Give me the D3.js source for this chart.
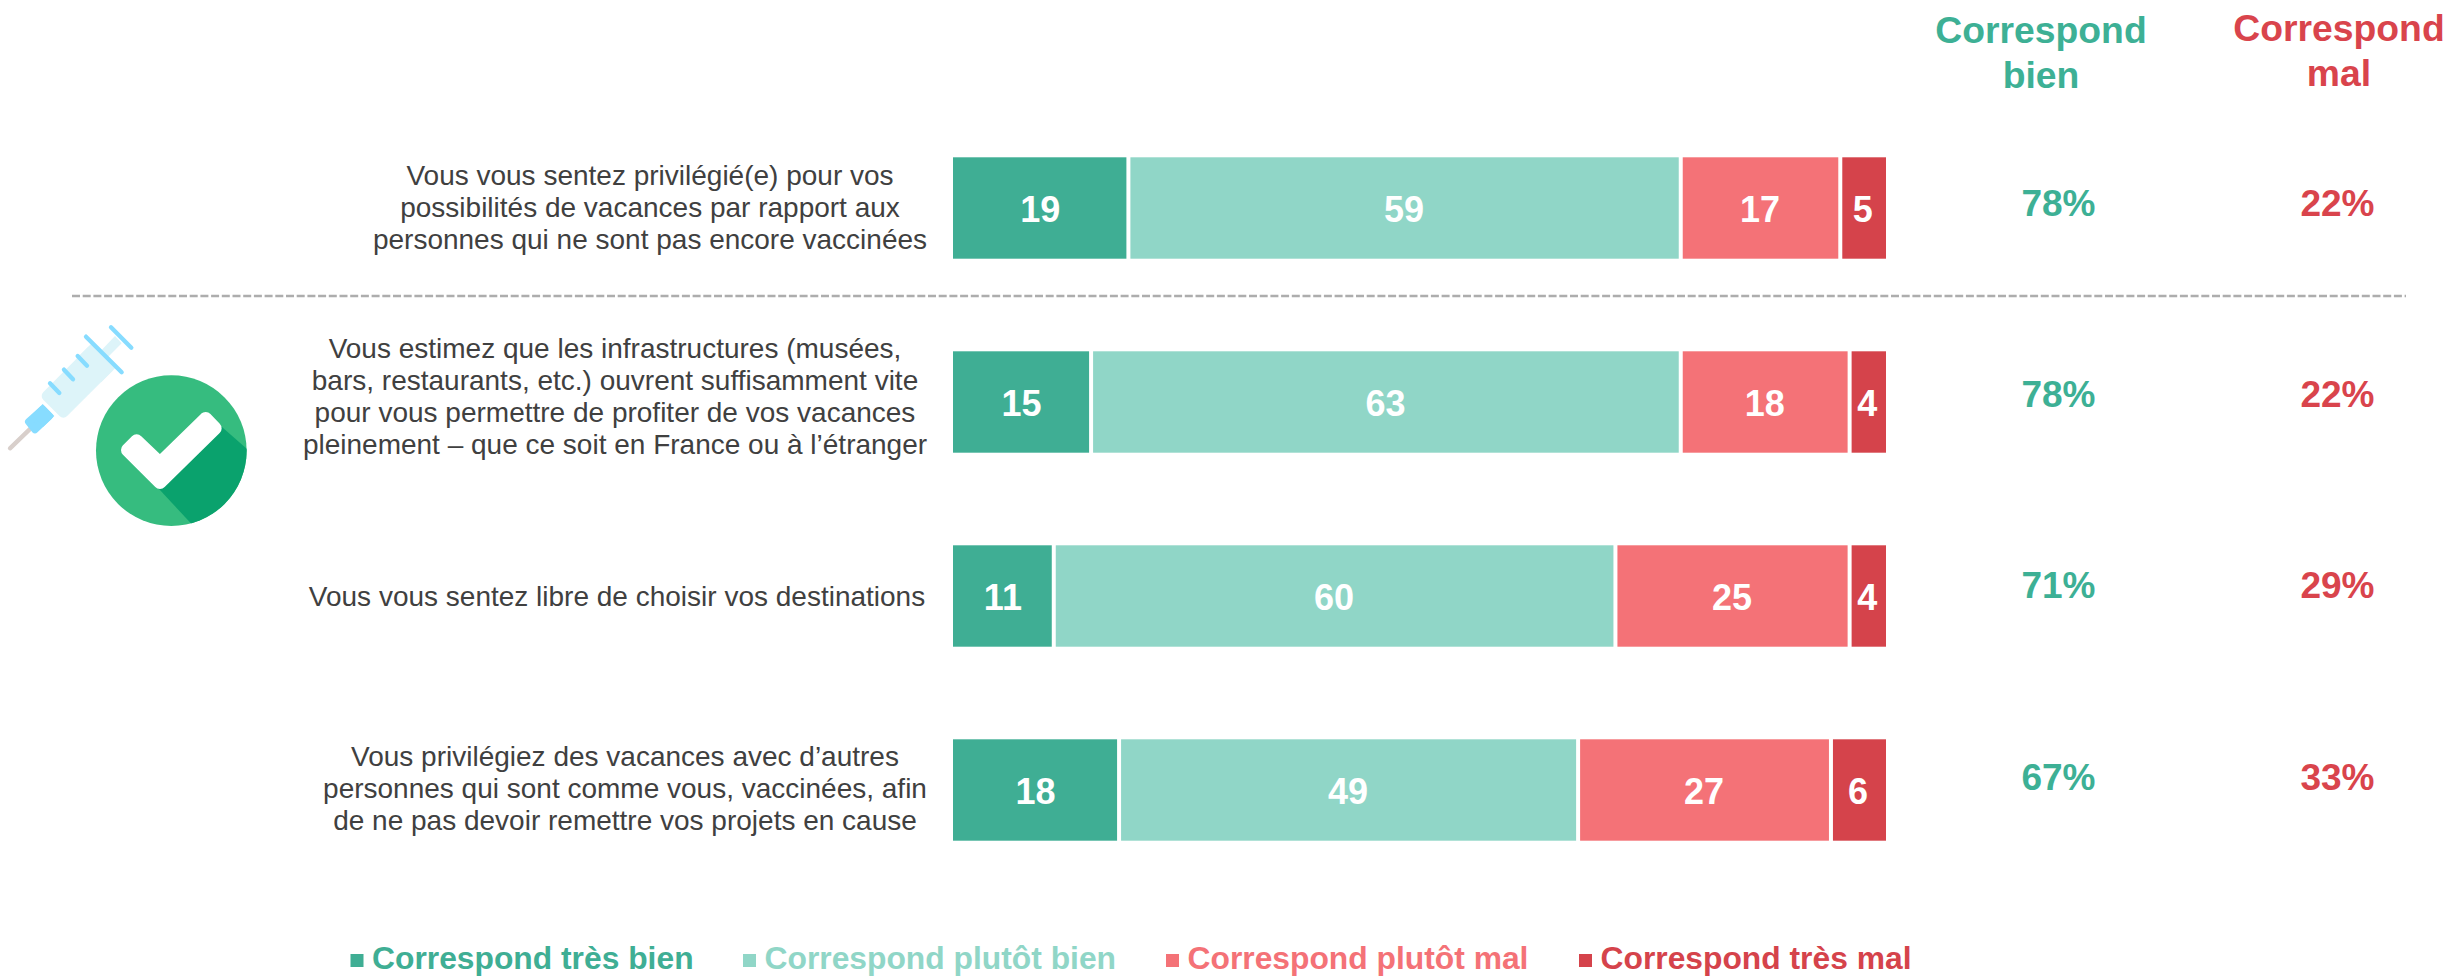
<!DOCTYPE html>
<html lang="fr">
<head>
<meta charset="utf-8">
<script src="https://cdn.jsdelivr.net/npm/d3@7"></script>
<style>
html,body{margin:0;padding:0;background:#fff;}
svg{display:block;}
text{font-family:"Liberation Sans",Arial,sans-serif;}
</style>
</head>
<body>
<svg id="chart" width="2445" height="976"></svg>
<script>
// --- data ---
const questions = ["q1", "q2", "q3", "q4"];
const questionLines = [
  ["Vous vous sentez privilégié(e) pour vos", "possibilités de vacances par rapport aux", "personnes qui ne sont pas encore vaccinées"],
  ["Vous estimez que les infrastructures (musées,", "bars, restaurants, etc.) ouvrent suffisamment vite", "pour vous permettre de profiter de vos vacances", "pleinement – que ce soit en France ou à l’étranger"],
  ["Vous vous sentez libre de choisir vos destinations"],
  ["Vous privilégiez des vacances avec d’autres", "personnes qui sont comme vous, vaccinées, afin", "de ne pas devoir remettre vos projets en cause"]
];
const seriesNames = ["Correspond très bien", "Correspond plutôt bien", "Correspond plutôt mal", "Correspond très mal"];
const tresBien = [18.8, 14.8, 10.8, 17.8];
const plutotBien = [59.2, 63.2, 60.2, 49.2];
const plutotMal = [17.1, 18.1, 25.1, 27.1];
const tresMal = [4.9, 3.9, 3.9, 5.9];
const totalBien = ["78%", "78%", "71%", "67%"];
const totalMal = ["22%", "22%", "29%", "33%"];
const headerBien = ["Correspond", "bien"];
const headerMal = ["Correspond", "mal"];

// --- style & layout ---
const colors = ["#3FAE94", "#90D6C7", "#F47277", "#D5434B"];
const green = "#3DB095", red = "#D9444C";
const svg = d3.select("#chart");

const x = d3.scaleLinear().domain([0, 100]).range([953, 1886]);
const y = d3.scaleBand().domain(questions).range([157.3, 157.3 + 194 * 4 - 92.6]).paddingInner(92.6 / 194);

const rows = questions.map((q, i) => ({q, 0: tresBien[i], 1: plutotBien[i], 2: plutotMal[i], 3: tresMal[i]}));
const stacked = d3.stack().keys([0, 1, 2, 3])(rows);
const gapPx = 2;

// --- separator ---
svg.append("line").attr("x1", 72).attr("x2", 2406).attr("y1", 296).attr("y2", 296)
  .attr("stroke", "#ADADAD").attr("stroke-width", 2.4).attr("stroke-dasharray", "8 2.7");

// --- bars ---
stacked.forEach((layer, k) => {
  const g = svg.append("g");
  g.selectAll("rect").data(layer).join("rect")
    .attr("x", d => x(d[0]) + (k > 0 ? gapPx : 0))
    .attr("y", d => y(d.data.q))
    .attr("width", d => x(d[1]) - x(d[0]) - (k > 0 ? gapPx : 0) - (k < 3 ? gapPx : 0))
    .attr("height", y.bandwidth())
    .attr("fill", colors[k]);
  g.selectAll("text").data(layer).join("text")
    .attr("x", d => (x(d[0]) + x(d[1])) / 2 - 0.5)
    .attr("y", d => y(d.data.q) + y.bandwidth() / 2 + 14)
    .attr("text-anchor", "middle")
    .attr("font-size", 36).attr("font-weight", 700).attr("fill", "#fff")
    .text(d => d3.format(".0f")(d[1] - d[0]));
});

// --- question labels ---
const labelCenter = [650, 615, 617, 625];
const labelMiddle = [207, 396, 595.5, 788];
const lineH = 32;
questionLines.forEach((lines, i) => {
  const first = labelMiddle[i] - (lines.length - 1) * lineH / 2 + 10;
  svg.append("g").selectAll("text").data(lines).join("text")
    .attr("x", labelCenter[i])
    .attr("y", (d, j) => first + j * lineH)
    .attr("text-anchor", "middle")
    .attr("font-size", 28).attr("fill", "#404040")
    .text(d => d);
});

// --- totals ---
const totalBase = [216, 407, 598, 790];
[[totalBien, 2058.5, green], [totalMal, 2337.5, red]].forEach(([vals, cx, col]) => {
  svg.append("g").selectAll("text").data(vals).join("text")
    .attr("x", cx).attr("y", (d, i) => totalBase[i])
    .attr("text-anchor", "middle").attr("font-size", 37).attr("font-weight", 700)
    .attr("fill", col).text(d => d);
});
[[headerBien, 2041, 43, green], [headerMal, 2339, 41, red]].forEach(([vals, cx, base, col]) => {
  svg.append("g").selectAll("text").data(vals).join("text")
    .attr("x", cx).attr("y", (d, i) => base + i * 45)
    .attr("text-anchor", "middle").attr("font-size", 37.3).attr("font-weight", 700)
    .attr("fill", col).text(d => d);
});

// --- legend ---
const legendSwatchX = [350.5, 743, 1166, 1579];
const legendG = svg.append("g").selectAll("g").data(seriesNames).join("g");
legendG.append("rect")
  .attr("x", (d, i) => legendSwatchX[i]).attr("y", 954).attr("width", 13).attr("height", 13)
  .attr("fill", (d, i) => colors[i]);
legendG.append("text")
  .attr("x", (d, i) => legendSwatchX[i] + 21.5).attr("y", 969)
  .attr("font-size", 31.8).attr("font-weight", 700)
  .attr("fill", (d, i) => colors[i]).text(d => d);

// --- icon: syringe + check badge (drawn in zoomed units) ---
const icon = svg.append("g").attr("transform", "translate(0,300) scale(0.3333)");
const pts = a => a.map(p => p.join(",")).join(" ");
const defs = svg.append("defs");
defs.append("clipPath").attr("id", "badgeClip").append("circle").attr("cx", 514).attr("cy", 452).attr("r", 226);

icon.append("line").attr("x1", 30).attr("y1", 445).attr("x2", 92).attr("y2", 385)
  .attr("stroke", "#D8CFCB").attr("stroke-width", 13).attr("stroke-linecap", "round");
icon.append("polygon").attr("points", pts([[305, 150], [345, 108], [365, 130], [325, 170]])).attr("fill", "#DDF4F9");
icon.append("polygon").attr("points", pts([[141, 288], [276, 152], [326, 201], [190, 337]]))
  .attr("fill", "#DDF4F9").attr("stroke", "#DDF4F9").attr("stroke-width", 32).attr("stroke-linejoin", "round");
icon.append("polygon").attr("points", pts([[230, 175], [276, 129], [349, 201], [303, 247]])).attr("fill", "#DDF4F9");
icon.append("polygon").attr("points", pts([[128, 328], [148, 348], [105, 389], [86, 365]]))
  .attr("fill", "#87DCFF").attr("stroke", "#87DCFF").attr("stroke-width", 22).attr("stroke-linejoin", "round");
icon.append("polygon").attr("points", pts([[128, 312], [163, 348], [130, 380], [95, 345]])).attr("fill", "#87DCFF");
[[[150, 250], [178, 279]], [[192, 209], [219, 238]], [[233, 168], [261, 197]], [[258, 110], [365, 217]], [[333, 82], [394, 143]]]
  .forEach(s => icon.append("line").attr("x1", s[0][0]).attr("y1", s[0][1]).attr("x2", s[1][0]).attr("y2", s[1][1])
    .attr("stroke", "#87DCFF").attr("stroke-width", 13).attr("stroke-linecap", "round"));

icon.append("circle").attr("cx", 514).attr("cy", 452).attr("r", 226).attr("fill", "#36BC7F");
icon.append("polygon").attr("clip-path", "url(#badgeClip)")
  .attr("points", pts([[475, 565], [610, 710], [790, 710], [790, 490], [665, 380]])).attr("fill", "#0AA26D");
icon.append("polygon")
  .attr("points", pts([[410, 423], [383, 450], [480, 547], [645, 385], [617, 356], [480, 490]]))
  .attr("fill", "#fff").attr("stroke", "#fff").attr("stroke-width", 40).attr("stroke-linejoin", "round");
</script>
</body>
</html>
